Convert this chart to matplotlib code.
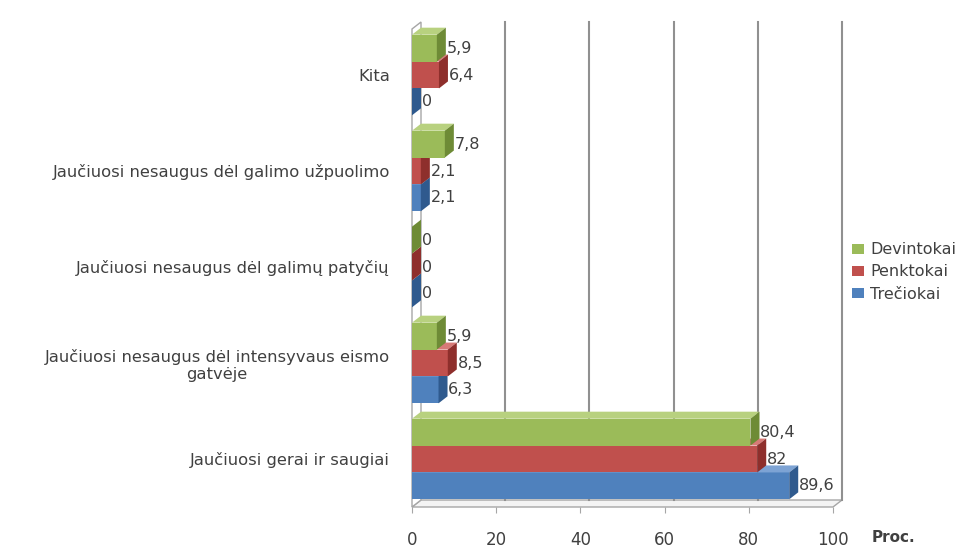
import matplotlib
matplotlib.use("Agg")
import matplotlib.pyplot as plt
from matplotlib.patches import Polygon, Patch

plt.rcParams['font.family'] = ['DejaVu Sans']

categories = [
    "Jaučiuosi gerai ir saugiai",
    "Jaučiuosi nesaugus dėl intensyvaus eismo\ngatvėje",
    "Jaučiuosi nesaugus dėl galimų patyčių",
    "Jaučiuosi nesaugus dėl galimo užpuolimo",
    "Kita",
]
series_names = ["Trečiokai", "Penktokai", "Devintokai"]
trec = [89.6, 6.3, 0, 2.1, 0]
penk = [82, 8.5, 0, 2.1, 6.4]
devi = [80.4, 5.9, 0, 7.8, 5.9]
values = [trec, penk, devi]
x_ticks = [0, 20, 40, 60, 80, 100]
x_label = "Proc."

front = ["#4F81BD", "#C0504D", "#9BBB59"]
side = ["#2F5A8E", "#8E2F2C", "#6E8B36"]
top = ["#7DA3D4", "#D77A77", "#B8D17F"]

W, H = 957, 560
fig = plt.figure(figsize=(W / 100, H / 100), dpi=100)
x0, x1 = 412, 833
yb, yt = 507, 27
ax = fig.add_axes([x0 / W, (H - yb) / H, (x1 - x0) / W, (yb - yt) / H])
ax.set_xlim(0, 100)
ax.set_ylim(-0.5, 4.5)

px_x = 100 / (x1 - x0)
px_y = 5 / (yb - yt)
dx = 9 * px_x
dy = 7 * px_y
grid_c = "#909090"

# floor
floor = Polygon([(0, -0.5), (100, -0.5), (100 + dx, -0.5 + dy), (dx, -0.5 + dy)],
                closed=True, facecolor="#F4F4F4", edgecolor="#A6A6A6", lw=1, clip_on=False, zorder=1)
ax.add_patch(floor)
# left wall
wall = Polygon([(0, -0.5), (dx, -0.5 + dy), (dx, 4.5 + 5 * px_y), (0, 4.5 + 5 * px_y - dy)],
               closed=True, facecolor="white", edgecolor="#A6A6A6", lw=1, clip_on=False, zorder=1)
ax.add_patch(wall)
# back wall gridlines
for t in x_ticks[1:]:
    ax.plot([t + dx, t + dx], [-0.5 + dy, 4.5 + 5 * px_y], color=grid_c, lw=1.5, clip_on=False, zorder=1)

h = 0.28
offsets = [-h, 0, h]
for s in range(3):
    for i, v in enumerate(values[s]):
        yc = i + offsets[s]
        ylo, yhi = yc - h / 2, yc + h / 2
        z = 3 + s
        ax.add_patch(Polygon([(0, ylo), (v, ylo), (v, yhi), (0, yhi)], closed=True,
                             facecolor=front[s], edgecolor="none", zorder=z, clip_on=False))
        ax.add_patch(Polygon([(0, yhi), (v, yhi), (v + dx, yhi + dy), (dx, yhi + dy)], closed=True,
                             facecolor=top[s], edgecolor="none", zorder=z, clip_on=False))
        ax.add_patch(Polygon([(v, ylo), (v + dx, ylo + dy), (v + dx, yhi + dy), (v, yhi)], closed=True,
                             facecolor=side[s], edgecolor="none", zorder=z, clip_on=False))
        lab = f"{v:g}".replace(".", ",")
        ax.text(v + dx + 0.2, yc, lab, ha="left", va="center", fontsize=11.5,
                color="#404040", zorder=10)

for sp in ax.spines.values():
    sp.set_visible(False)
ax.set_xticks(x_ticks)
ax.set_xticklabels([str(t) for t in x_ticks])
ax.tick_params(axis="x", length=4, color="#A6A6A6", pad=13, labelsize=12, labelcolor="#404040")
ax.set_yticks(range(len(categories)))
ax.set_yticklabels(categories, multialignment="center")
ax.tick_params(axis="y", length=0, pad=16, labelsize=11.8, labelcolor="#404040")

fig.text(872 / W, (H - 537) / H, x_label, fontsize=11, fontweight="bold", color="#404040",
         ha="left", va="center")

handles = [Patch(facecolor=front[s], edgecolor="none", label=series_names[s]) for s in [2, 1, 0]]
fig.legend(handles=handles, loc="center left", bbox_to_anchor=(838 / W, (H - 272) / H),
           frameon=False, fontsize=11.5, handlelength=0.7, handleheight=0.6,
           handletextpad=0.4, labelspacing=0.45, labelcolor="#404040")

fig.savefig("out.png", dpi=100, facecolor="white")
